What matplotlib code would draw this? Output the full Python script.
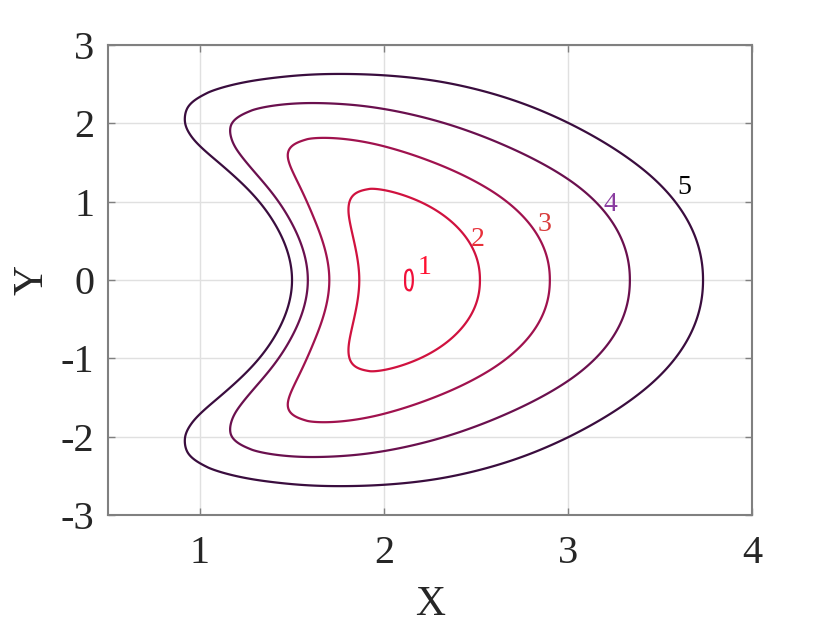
import numpy as np
import matplotlib
matplotlib.use('Agg')
import matplotlib.pyplot as plt

plt.rcParams['font.family'] = ['Liberation Serif', 'DejaVu Serif']

# contour levels and their colours (line / label)
levels = [1, 2, 3, 4, 5]
line_colors = ['#f0103a', '#d0123f', '#a0124e', '#6a104e', '#3a0d3e']
label_colors = ['#ff1030', '#e8303a', '#d83a3a', '#8a3ca0', '#000000']

# label spots (x, y)
label_x = [2.22, 2.51, 2.87, 3.23, 3.63]
label_y = [0.16, 0.52, 0.71, 0.96, 1.18]

# reach of each contour, in polar terms around (-1, 0)
outer_reach = [0.012, 0.375, 0.752, 1.201, 1.589]   # radial, outward from the min
inner_reach = [0.030, 0.277, 0.445, 0.565, 0.645]   # radial, inward from the min
angle_reach = [0.042, 0.375, 0.615, 0.770, 0.865]   # angle (rad)
centre_x = -1.0
min_x = 2.145
min_value = 0.975
mix_out, mix_in = 1.4, 1.6


def reach_curve(reach):
    # log-log lookup through the reach points, extended at both ends and smoothed
    k = np.log(np.array(levels, float) - min_value)
    rr = np.log(np.array(reach, float))
    ld = np.linspace(np.log(1e-5), np.log(8), 3000)
    lo = (k[1] - k[0]) / (rr[1] - rr[0])
    hi = (k[-1] - k[-2]) / (rr[-1] - rr[-2])
    lk = np.interp(ld, rr, k)
    lk = np.where(ld < rr[0], k[0] + lo * (ld - rr[0]), lk)
    lk = np.where(ld > rr[-1], k[-1] + hi * (ld - rr[-1]), lk)
    w = 40
    step = ld[1] - ld[0]
    head = lk[0] - lo * step * np.arange(w, 0, -1)
    tail = lk[-1] + hi * step * np.arange(1, w + 1)
    pad = np.concatenate([head, lk, tail])
    sm = np.convolve(pad, np.ones(2 * w + 1) / (2 * w + 1), mode='same')[w:-w]
    return ld, sm


def level_of(d, reach):
    ld, sm = reach_curve(reach)
    return np.exp(np.interp(np.log(np.maximum(d, 1e-5)), ld, sm))


x = np.linspace(0.5, 4, 1400)
y = np.linspace(-3, 3, 1400)
X, Y = np.meshgrid(x, y)
r = np.hypot(X - centre_x, Y)
th = np.abs(np.arctan2(Y, X - centre_x))
s = r - (min_x - centre_x)
T = level_of(th, angle_reach)
R_out = level_of(np.abs(s), outer_reach)
R_in = level_of(np.abs(s), inner_reach)
Z = np.where(s > 0,
             min_value + (R_out ** mix_out + T ** mix_out) ** (1 / mix_out),
             min_value + (R_in ** mix_in + T ** mix_in) ** (1 / mix_in))

fig = plt.figure(figsize=(8.3, 6.23), dpi=100)
ax = fig.add_axes([0.130, 0.173, 0.776, 0.755])

ax.contour(X, Y, Z, levels=levels, colors=line_colors, linewidths=1.6)

for i in range(len(levels)):
    ax.text(label_x[i], label_y[i], str(levels[i]), color=label_colors[i],
            fontsize=20, ha='center', va='center')

ax.set_xlim(0.5, 4)
ax.set_ylim(-3, 3)
ax.set_xticks([1, 2, 3, 4])
ax.set_yticks([-3, -2, -1, 0, 1, 2, 3])
ax.set_yticklabels(['-3', '-2', '-1', '0', '1', '2', '3'])
ax.grid(True, color='#e0e0e0', linewidth=1)
ax.set_axisbelow(True)
ax.tick_params(direction='in', length=5, width=1, colors='#808080',
               labelcolor='#262626', labelsize=29, top=True, right=True)
ax.tick_params(axis='x', pad=14)
ax.tick_params(axis='y', pad=10)
for sp in ax.spines.values():
    sp.set_color('#808080')
    sp.set_linewidth(1.5)

ax.set_xlabel('X', fontsize=30, color='#262626', labelpad=10)
ax.set_ylabel('Y', fontsize=30, color='#262626', labelpad=6)

plt.savefig('out.png', dpi=100)
